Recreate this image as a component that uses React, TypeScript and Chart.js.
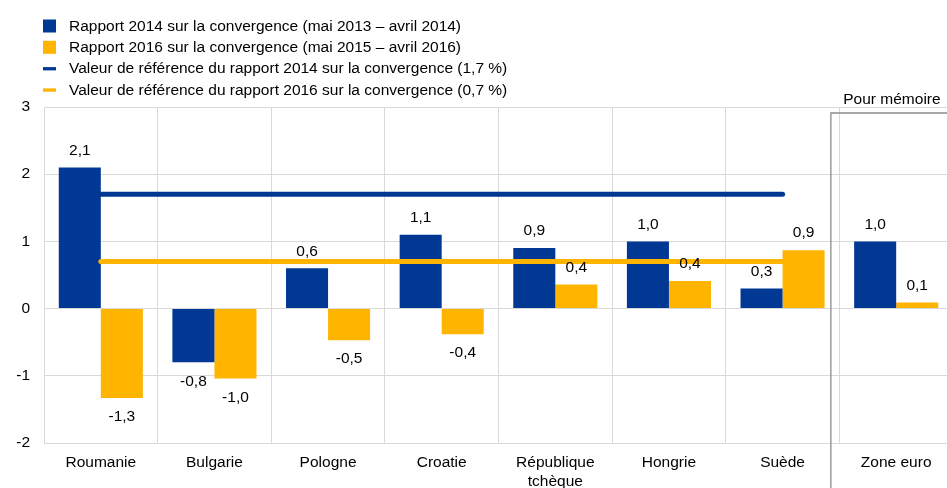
import React, { useEffect, useRef } from 'react';
import { Chart, registerables } from 'chart.js';

Chart.register(...registerables);

const categories: (string | string[])[] = [
  'Roumanie',
  'Bulgarie',
  'Pologne',
  'Croatie',
  ['République', 'tchèque'],
  'Hongrie',
  'Suède',
  'Zone euro',
];

const series2014 = [2.1, -0.8, 0.6, 1.1, 0.9, 1.0, 0.3, 1.0];
const series2016 = [-1.33, -1.04, -0.47, -0.38, 0.36, 0.41, 0.87, 0.09];

const ref2014 = 1.7;
const ref2016 = 0.7;
const refFromIndex = 0;
const refToIndex = 6;

const yMin = -2;
const yMax = 3;
const yStep = 1;

const legendLabels = [
  'Rapport 2014 sur la convergence (mai 2013 – avril 2014)',
  'Rapport 2016 sur la convergence (mai 2015 – avril 2016)',
  'Valeur de référence du rapport 2014 sur la convergence (1,7 %)',
  'Valeur de référence du rapport 2016 sur la convergence (0,7 %)',
];
const memoLabel = 'Pour mémoire';

const BLUE = '#003894';
const YELLOW = '#ffb400';
const FONT = '"Liberation Sans", Arial, sans-serif';
const FS = 15.5;

const fmt = (v: number) => v.toFixed(1).replace('.', ',');

const customPlugin = {
  id: 'custom',
  afterDatasetsDraw(chart: any) {
    const ctx = chart.ctx;
    const x = chart.scales.x;
    const y = chart.scales.y;
    const area = chart.chartArea;

    // reference lines
    const refs = [
      { v: ref2014, c: BLUE },
      { v: ref2016, c: YELLOW },
    ];
    ctx.save();
    refs.forEach((r) => {
      ctx.beginPath();
      ctx.strokeStyle = r.c;
      ctx.lineWidth = 5;
      ctx.lineCap = 'round';
      const yy = y.getPixelForValue(r.v);
      ctx.moveTo(x.getPixelForValue(refFromIndex), yy);
      ctx.lineTo(x.getPixelForValue(refToIndex), yy);
      ctx.stroke();
    });
    ctx.restore();

    // data labels
    ctx.save();
    ctx.font = `${FS}px ${FONT}`;
    ctx.fillStyle = '#000';
    ctx.textAlign = 'center';
    ctx.textBaseline = 'middle';
    chart.data.datasets.forEach((ds: any, di: number) => {
      const meta = chart.getDatasetMeta(di);
      meta.data.forEach((bar: any, i: number) => {
        const v = ds.data[i];
        const yy = v >= 0 ? bar.y - 17 : bar.y + 19;
        ctx.fillText(fmt(v), bar.x, yy);
      });
    });
    ctx.restore();

    // "Pour mémoire" box
    const boxX = (x.getPixelForValue(refToIndex) + x.getPixelForValue(refToIndex + 1)) / 2 - 8.5;
    const boxTop = area.top + 6;
    ctx.save();
    ctx.strokeStyle = '#8c8c8c';
    ctx.lineWidth = 1.3;
    ctx.beginPath();
    ctx.moveTo(boxX, chart.height);
    ctx.lineTo(boxX, boxTop);
    ctx.lineTo(chart.width, boxTop);
    ctx.stroke();
    ctx.font = `${FS}px ${FONT}`;
    ctx.fillStyle = '#000';
    ctx.textAlign = 'center';
    ctx.textBaseline = 'middle';
    ctx.fillText(memoLabel, (boxX + area.right) / 2, area.top - 7);
    ctx.restore();

    // legend
    ctx.save();
    ctx.font = `${FS}px ${FONT}`;
    ctx.textBaseline = 'middle';
    ctx.textAlign = 'left';
    const colors = [BLUE, YELLOW, BLUE, YELLOW];
    legendLabels.forEach((t, i) => {
      const cy = 26 + i * 21.3;
      ctx.fillStyle = colors[i];
      if (i < 2) {
        ctx.fillRect(43, cy - 6.5, 13, 13);
      } else {
        ctx.fillRect(43, cy - 1.5, 13, 3.3);
      }
      ctx.fillStyle = '#000';
      ctx.fillText(t, 69, cy + 0.5);
    });
    ctx.restore();
  },
};

export default function App() {
  const ref = useRef<HTMLCanvasElement | null>(null);

  useEffect(() => {
    if (!ref.current) return;
    const chart = new Chart(ref.current, {
      type: 'bar',
      data: {
        labels: categories,
        datasets: [
          {
            label: legendLabels[0],
            data: series2014,
            backgroundColor: BLUE,
            borderWidth: 0,
            categoryPercentage: 0.74,
            barPercentage: 1.0,
          },
          {
            label: legendLabels[1],
            data: series2016,
            backgroundColor: YELLOW,
            borderWidth: 0,
            categoryPercentage: 0.74,
            barPercentage: 1.0,
          },
        ],
      },
      options: {
        responsive: false,
        animation: false,
        devicePixelRatio: 1,
        layout: { padding: { top: 107, right: 7, left: 0, bottom: 0 } },
        plugins: {
          legend: { display: false },
          tooltip: { enabled: false },
          title: { display: false },
        },
        scales: {
          x: {
            grid: {
              color: '#d9d9d9',
              lineWidth: 1,
              offset: true,
              drawTicks: false,
            },
            border: { display: false },
            ticks: {
              color: '#000',
              font: { family: FONT, size: FS, lineHeight: 1.18 },
              padding: 11,
              maxRotation: 0,
              autoSkip: false,
            },
            afterFit(scale: any) {
              scale.height = 45;
            },
          },
          y: {
            min: yMin,
            max: yMax,
            grid: { color: '#d9d9d9', lineWidth: 1, drawTicks: false },
            border: { color: '#d9d9d9' },
            ticks: {
              stepSize: yStep,
              color: '#000',
              font: { family: FONT, size: FS },
              padding: 14,
              callback: (v: any) => String(v),
            },
            afterFit(scale: any) {
              scale.width = 44;
            },
          },
        },
      },
      plugins: [customPlugin],
    });
    return () => chart.destroy();
  }, []);

  return (
    <div
      style={{
        position: 'fixed',
        left: 0,
        top: 0,
        width: 947,
        height: 488,
        overflow: 'hidden',
        background: '#fff',
      }}
    >
      <canvas ref={ref} width={960} height={488} style={{ display: 'block' }} />
    </div>
  );
}
